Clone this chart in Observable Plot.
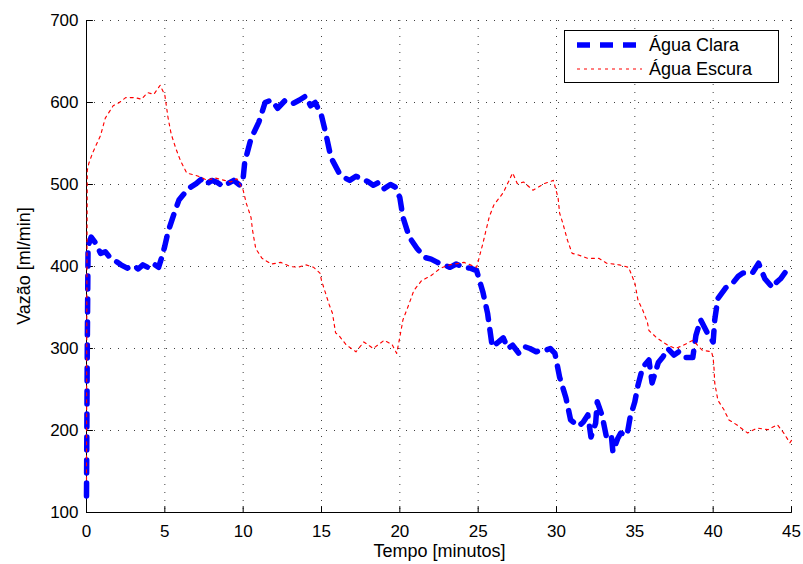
<!DOCTYPE html>
<html>
<head>
<meta charset="utf-8">
<script src="https://cdn.jsdelivr.net/npm/d3@7"></script>
<script src="https://cdn.jsdelivr.net/npm/@observablehq/plot@0.6"></script>
<style>
  html, body { margin: 0; padding: 0; background: #fff; }
  #wrap { position: relative; width: 803px; height: 564px; font-family: "Liberation Sans", Arial, Helvetica, sans-serif; }
  #legend {
    position: absolute; left: 564px; top: 30px; width: 213px; height: 51px;
    border: 1.5px solid #000; background: #fff;
  }
  #legend svg { position: absolute; left: 0; top: 0; }
</style>
</head>
<body>
<div id="wrap">
  <div id="chart"></div>
  <div id="legend"></div>
</div>
<script>
// Flow readings over time (minutes, ml/min)
const claraTime = [0, 0.05, 0.1, 0.3, 0.6, 0.9, 1.2, 1.5, 1.9, 2.2, 2.6, 3.0, 3.3, 3.6, 4.0, 4.3, 4.6, 4.8, 5.0, 5.2, 5.6, 5.9, 6.2, 6.5, 7.0, 7.3, 7.6, 8.0, 8.3, 8.7, 9.0, 9.4, 9.8, 10.0, 10.1, 10.5, 11.0, 11.4, 11.8, 12.2, 12.7, 13.2, 13.6, 14.0, 14.3, 14.6, 15.0, 15.3, 15.6, 16.1, 16.5, 16.8, 17.2, 17.6, 18.0, 18.3, 18.7, 19.0, 19.4, 19.7, 20.0, 20.2, 20.6, 21.1, 21.6, 22.0, 22.4, 22.8, 23.2, 23.6, 24.1, 24.5, 24.9, 25.3, 25.6, 25.9, 26.3, 26.6, 26.9, 27.2, 27.6, 28.0, 28.3, 28.7, 29.0, 29.3, 29.6, 29.9, 30.2, 30.6, 30.9, 31.4, 31.7, 32.0, 32.2, 32.5, 32.6, 32.9, 33.2, 33.5, 33.6, 33.9, 34.1, 34.5, 34.7, 35.0, 35.2, 35.5, 35.9, 36.1, 36.5, 36.8, 37.1, 37.5, 37.8, 38.2, 38.7, 38.9, 39.2, 39.6, 40.0, 40.1, 40.3, 40.8, 41.3, 41.6, 41.9, 42.5, 42.9, 43.3, 43.8, 44.0, 44.3, 44.8, 45.0];
const claraFlow = [120, 300, 425, 436, 428, 416, 418, 411, 406, 402, 398, 401, 397, 402, 398, 403, 399, 411, 425, 442, 465, 481, 488, 495, 501, 506, 500, 505, 503, 498, 501, 505, 499, 508, 527, 556, 576, 600, 603, 593, 603, 599, 603, 608, 596, 600, 584, 560, 533, 515, 508, 505, 510, 507, 503, 499, 503, 495, 500, 497, 484, 460, 436, 422, 411, 409, 405, 402, 399, 403, 399, 398, 395, 369, 343, 302, 308, 313, 300, 304, 294, 302, 300, 296, 298, 298, 300, 294, 265, 240, 213, 205, 210, 219, 192, 209, 235, 219, 191, 194, 174, 190, 197, 194, 216, 235, 255, 277, 286, 258, 283, 290, 300, 292, 296, 289, 289, 316, 335, 320, 308, 335, 361, 374, 381, 388, 392, 392, 404, 385, 374, 380, 385, 398, 400];

const escuraTime = [0, 0.02, 0.05, 0.15, 0.4, 0.9, 1.2, 1.7, 2.1, 2.5, 3.1, 3.5, 3.9, 4.3, 4.7, 5.0, 5.2, 5.4, 5.7, 6.0, 6.4, 7.0, 7.4, 7.7, 8.2, 8.8, 9.2, 9.6, 10.0, 10.2, 10.5, 10.6, 10.8, 11.2, 11.8, 12.4, 13.0, 13.5, 14.0, 14.5, 14.9, 15.0, 15.3, 15.5, 15.7, 15.9, 16.1, 16.6, 17.2, 17.7, 18.3, 19.0, 19.5, 19.8, 20.0, 20.2, 20.6, 20.9, 21.4, 22.0, 22.6, 23.2, 24.1, 24.5, 24.9, 25.3, 25.5, 25.7, 26.0, 26.6, 27.2, 27.5, 27.9, 28.5, 29.2, 29.8, 30.1, 30.2, 30.4, 30.7, 31.0, 31.4, 32.0, 32.7, 33.2, 34.0, 34.6, 35.0, 35.2, 35.5, 35.8, 35.9, 36.4, 37.1, 37.6, 38.1, 38.7, 39.3, 39.9, 40.0, 40.05, 40.1, 40.3, 40.7, 41.0, 41.5, 42.2, 42.8, 43.5, 44.1, 44.5, 44.9, 45.0];
const escuraFlow = [140, 350, 517, 526, 539, 560, 581, 596, 600, 606, 606, 604, 612, 610, 621, 609, 582, 562, 544, 529, 514, 511, 508, 505, 508, 505, 503, 507, 493, 477, 460, 444, 422, 410, 403, 405, 400, 399, 402, 399, 392, 383, 365, 353, 343, 319, 316, 304, 296, 308, 300, 310, 305, 294, 314, 335, 355, 371, 383, 389, 398, 402, 405, 402, 399, 428, 444, 460, 475, 490, 514, 501, 503, 493, 501, 505, 484, 465, 453, 432, 416, 414, 410, 410, 404, 402, 399, 380, 359, 347, 332, 322, 313, 304, 300, 304, 310, 298, 296, 288, 277, 258, 237, 225, 213, 207, 197, 203, 201, 207, 197, 185, 188];

const xTicks = [0, 5, 10, 15, 20, 25, 30, 35, 40, 45];
const yTicks = [100, 200, 300, 400, 500, 600, 700];
const seriesNames = ["Água Clara", "Água Escura"];

const clara = claraTime.map((t, i) => ({t, v: claraFlow[i]}));
const escura = escuraTime.map((t, i) => ({t, v: escuraFlow[i]}));

const claraStyle = {stroke: "#0000ff", strokeWidth: 5.5, strokeDasharray: "13,10"};
const escuraStyle = {stroke: "#ff0000", strokeWidth: 1.15, strokeDasharray: "3,4"};

const W = 803, H = 564;
const mL = 86, mR = 12, mT = 20, mB = 52;

// straight tick stub pointing into the frame
const stub = {draw(context, l) { context.moveTo(0, 0); context.lineTo(0, -l); }};

const chart = Plot.plot({
  width: W,
  height: H,
  marginLeft: mL,
  marginRight: mR,
  marginTop: mT,
  marginBottom: mB,
  style: {fontFamily: "Liberation Sans, Arial, Helvetica, sans-serif", fontSize: "17px", color: "#000", background: "#fff", overflow: "visible"},
  x: {domain: [0, 45], ticks: xTicks},
  y: {domain: [100, 700], ticks: yTicks},
  marks: [
    Plot.gridX(xTicks.filter(d => d > 0), {stroke: "#000", strokeOpacity: 0.75, strokeDasharray: "1,7"}),
    Plot.gridY(yTicks.filter(d => d > 100), {stroke: "#000", strokeOpacity: 0.75, strokeDasharray: "1,7"}),
    // inward tick marks on the bottom and left axes
    Plot.vector(xTicks, {x: d => d, y: yTicks[0], length: 6, rotate: 0, anchor: "start", shape: stub, stroke: "#000", strokeWidth: 1}),
    Plot.vector(yTicks, {x: xTicks[0], y: d => d, length: 6, rotate: 90, anchor: "start", shape: stub, stroke: "#000", strokeWidth: 1}),
    // tick labels
    Plot.axisX(xTicks, {tickSize: 0, tickPadding: 4, dy: 8, label: null, fontSize: 17}),
    Plot.axisY(yTicks, {tickSize: 0, tickPadding: 4, dx: -4, label: null, fontSize: 17}),
    Plot.ruleX([0], {stroke: "#000", strokeWidth: 1}),
    Plot.ruleY([100], {stroke: "#000", strokeWidth: 1}),
    Plot.line(clara, {x: "t", y: "v", ...claraStyle}),
    Plot.line(escura, {x: "t", y: "v", ...escuraStyle})
  ]
});
document.getElementById("chart").appendChild(chart);

// Axis titles
const svg = d3.select(chart);
svg.append("text")
  .attr("x", (mL + W - mR) / 2 + 1)
  .attr("y", 557)
  .attr("text-anchor", "middle")
  .attr("font-size", 18)
  .attr("fill", "#000")
  .text("Tempo [minutos]");
svg.append("text")
  .attr("transform", `translate(30, ${(mT + H - mB) / 2}) rotate(-90)`)
  .attr("text-anchor", "middle")
  .attr("font-size", 18)
  .attr("fill", "#000")
  .text("Vazão [ml/min]");

// Legend
const lg = d3.select("#legend").append("svg").attr("width", 213).attr("height", 51);
const rows = [claraStyle, escuraStyle];
rows.forEach((s, i) => {
  const y = 14 + i * 24;
  lg.append("line")
    .attr("x1", 12).attr("x2", 77).attr("y1", y).attr("y2", y)
    .attr("stroke", s.stroke).attr("stroke-width", s.strokeWidth)
    .attr("stroke-dasharray", s.strokeDasharray);
  lg.append("text")
    .attr("x", 84).attr("y", y + 6)
    .attr("font-size", 18)
    .attr("font-family", "Liberation Sans, Arial, Helvetica, sans-serif")
    .attr("fill", "#000")
    .text(seriesNames[i]);
});
</script>
</body>
</html>
